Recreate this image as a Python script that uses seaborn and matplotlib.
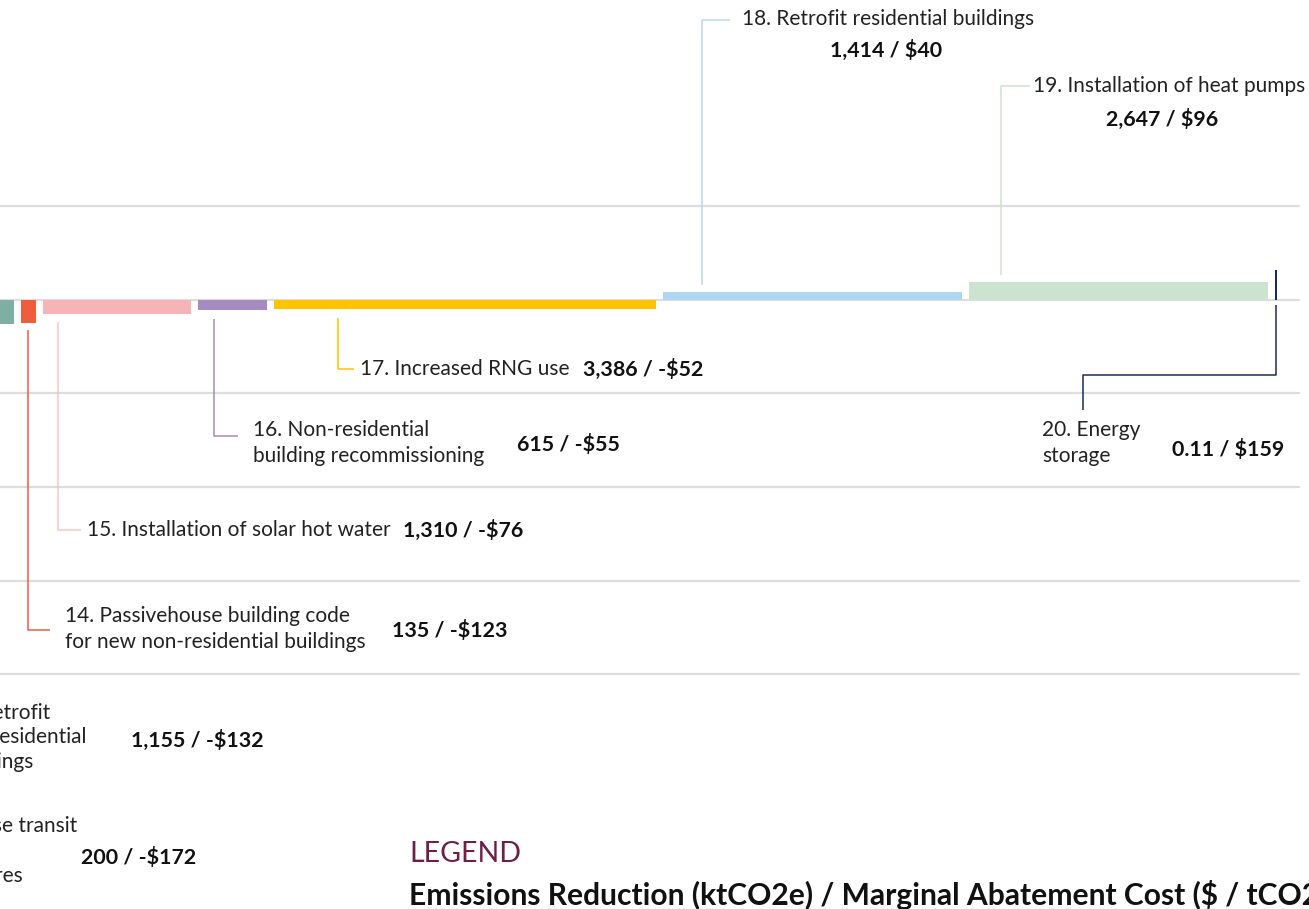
import matplotlib
matplotlib.use("Agg")
from matplotlib import pyplot as plt
import numpy as np
import pandas as pd
import seaborn as sns

# measures visible in this part of the curve (12 and 13 are cut off at the left)
measure_id = [13, 14, 15, 16, 17, 18, 19, 20]
reduction = [1155, 135, 1310, 615, 3386, 1414, 2647, 0.11]      # ktCO2e, as labelled
drawn_width = [1155, 135, 1310, 615, 3386, 2650, 2647, 0.11]    # ktCO2e, as drawn
cost = [-132, -123, -76, -55, -52, 40, 96, 159]                 # $ / tCO2e
colors = ["#7FAFA2", "#EE5D3E", "#F5B5B6", "#A48BC2", "#FFC300",
          "#AFD6F3", "#CCE3CF", "#1C2B5E"]
line_colors = ["#7FAFA2", "#EE5D3E", "#F7C6C7", "#A48BC2", "#FFC300",
               "#B6D9F4", "#CCE3CF", "#1C2B5E"]

W, H = 1309, 909
XS = 0.1128      # px per kt
YS = 0.1874      # px per $
Y0 = 299.5       # pixel row of the zero line
GAP = 7.0 / XS   # gap between bars in kt
FIRST_RIGHT = 14 / XS  # right edge of bar 13

sns.set_theme(style="white")
plt.rcParams['font.family'] = ['Lato', 'DejaVu Sans']

fig = plt.figure(figsize=(W / 100, H / 100), dpi=100)
ax = fig.add_axes([0, 0, 1, 1])
ax.set_xlim(0, W / XS)
ax.set_ylim(-(H - Y0) / YS, Y0 / YS)
ax.axis("off")

def X(px):
    return px / XS

def Y(py):
    return (Y0 - py) / YS

# grid
for g in [500, 0, -500, -1000, -1500, -2000]:
    ax.plot([0, X(1299)], [g, g], color="#DDDDDD", lw=1.6, zorder=1)

df = pd.DataFrame({"id": measure_id, "w": drawn_width, "cost": cost})
lefts = []
pos = FIRST_RIGHT - df.w.iloc[0]
for w in df.w:
    lefts.append(pos)
    pos += w + GAP
df["left"] = lefts
for i, r in df.iterrows():
    w = r.w if r.w > 1 else X(2)
    ax.bar(r.left, r.cost, width=w, align="edge", color=colors[i], lw=0, zorder=2)

def leader(pts, c):
    xs = [X(p[0]) for p in pts]
    ys = [Y(p[1]) for p in pts]
    ax.plot(xs, ys, color=c, lw=1.1, zorder=1.5, solid_capstyle="butt")

def bar_x(i, off):
    return df.left[i] * XS + off

fs = 15.0
bfs = 15.4

def txt(px, py, s, bold=False, ha="left", size=None, color="#222222"):
    ax.text(X(px), Y(py), s, fontsize=size or (bfs if bold else fs),
            fontweight="bold" if bold else "normal", ha=ha, va="center",
            color="#111111" if bold else color, linespacing=1.42)

def value(i):
    return f"{reduction[i]:,}" if reduction[i] >= 1 else f"{reduction[i]}"

def lab(i):
    c = cost[i]
    return f"{value(i)} / {'-' if c < 0 else ''}${abs(c)}"

# 14
x14 = bar_x(1, 7)
leader([(x14, 330), (x14, 630), (x14 + 22, 630)], line_colors[1])
txt(65, 629, "14. Passivehouse building code\nfor new non-residential buildings")
txt(392, 630, lab(1), bold=True)
# 15
x15 = bar_x(2, 15)
leader([(x15, 322), (x15, 530), (x15 + 23, 530)], line_colors[2])
txt(87, 530, "15. Installation of solar hot water")
txt(403, 530, lab(2), bold=True)
# 16
x16 = bar_x(3, 16)
leader([(x16, 319), (x16, 436), (x16 + 24, 436)], line_colors[3])
txt(253, 443, "16. Non-residential\nbuilding recommissioning")
txt(517, 444, lab(3), bold=True)
# 17
x17 = bar_x(4, 64)
leader([(x17, 318), (x17, 369), (x17 + 16, 369)], line_colors[4])
txt(360, 369, "17. Increased RNG use")
txt(583, 369, lab(4), bold=True)
# 18
x18 = bar_x(5, 39)
leader([(x18, 285), (x18, 20), (x18 + 28, 20)], line_colors[5])
txt(742, 19, "18. Retrofit residential buildings")
txt(886, 50, lab(5), bold=True, ha="center")
# 19
x19 = bar_x(6, 32)
leader([(x19, 275), (x19, 86), (x19 + 29, 86)], line_colors[6])
txt(1033, 86, "19. Installation of heat pumps")
txt(1162, 119, lab(6), bold=True, ha="center")
# 20
x20 = bar_x(7, 1)
leader([(x20, 305), (x20, 375), (1083, 375), (1083, 410)], line_colors[7])
txt(1042, 443, "20. Energy\nstorage")
txt(1172, 449, lab(7), bold=True)
# 13 (cut off at the left edge, as in the source)
txt(50, 713, "13. Retrofit", ha="right")
txt(87, 737, "non-residential", ha="right")
txt(34, 762, "buildings", ha="right")
txt(131, 740, lab(0), bold=True)
# 12 (cut off)
txt(77, 826, "12. Increase transit", ha="right")
txt(24, 876, "infrastructures", ha="right")
txt(81, 857, "200 / -$172", bold=True)

# legend
txt(409, 854, "LEGEND", size=20.5, color="#6E1E48")
ax.text(X(409), Y(895), "Emissions Reduction (ktCO2e) / Marginal Abatement Cost ($ / tCO2e)",
        fontsize=21.6, fontweight="bold", ha="left", va="center", color="#111111")

fig.savefig("out.png", dpi=100)
